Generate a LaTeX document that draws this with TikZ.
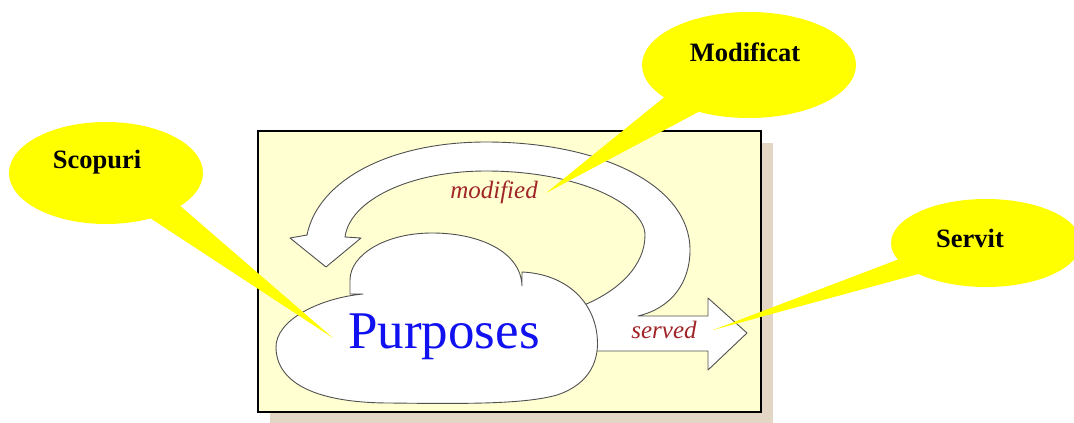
\documentclass[tikz,border=0pt]{standalone}
\usepackage{fontspec}
\setmainfont{Liberation Serif}
\usetikzlibrary{shapes.geometric}
\definecolor{boxfill}{RGB}{255,255,210}
\definecolor{boxshadow}{RGB}{228,214,196}
\definecolor{outline}{RGB}{80,80,80}
\definecolor{labelred}{RGB}{160,36,40}
\definecolor{purpblue}{RGB}{16,16,240}
\definecolor{callyellow}{RGB}{255,255,0}
\tikzset{
  shapeline/.style={draw=outline, line width=0.9pt, fill=white, line join=round},
  flowlabel/.style={text=labelred, font=\fontsize{25}{25}\selectfont\itshape, inner sep=0pt},
  callout/.style={ellipse, fill=callyellow, inner sep=0pt},
  callouttext/.style={font=\fontsize{26.5}{26.5}\selectfont\bfseries, inner sep=0pt},
}
\begin{document}
\begin{tikzpicture}[x=1pt,y=-1pt]
\useasboundingbox (0,0) rectangle (1074,423);
\fill[white] (0,0) rectangle (1074,423);

% panel with its drop shadow
\fill[boxshadow] (270,143) rectangle (773,423);
\draw[fill=boxfill, line width=1.6pt] (258,131) rectangle (761,412);

% loop arrow back to the left, joined with the outgoing arrow
\path[shapeline]
  (595,351) -- (708,351) -- (708,370) -- (747,333) -- (708,298) -- (708,316) -- (638,316)
  .. controls (672,308) and (690,282) .. (690,250)
  .. controls (690,185) and (600,142) .. (486,142)
  .. controls (390,142) and (318,180) .. (307,235)
  -- (290,238) -- (326,267) -- (361,238) -- (345,237)
  .. controls (350,200) and (410,171) .. (486,171)
  .. controls (580,171) and (645,205) .. (645,235)
  .. controls (645,265) and (620,290) .. (584,305)
  -- (575,340) -- (585,351) -- cycle;

% cloud
\path[shapeline]
  (363,294) .. controls (320,298) and (275,320) .. (276,348)
  .. controls (277,385) and (320,403) .. (390,403)
  .. controls (470,404) and (525,404) .. (557,395)
  .. controls (590,384) and (600,360) .. (597,335)
  .. controls (593,300) and (565,274) .. (522,272)
  -- (522,286)
  .. controls (521,252) and (480,233) .. (432,233)
  .. controls (385,233) and (350,255) .. (350,280)
  -- (350,294) -- cycle;

\node[text=purpblue, font=\fontsize{53}{53}\selectfont, inner sep=0pt] (purp) at (444,337) {Purposes};
\node[flowlabel] (mod) at (494,192) {modified};
\node[flowlabel] (serv) at (664,330) {served};

% callouts
\node[callout, minimum width=194pt, minimum height=102pt] (cS) at (106,173) {};
\coordinate (tS) at (333,338);
\fill[callyellow] (147,216) -- (178,204) -- (tS) -- cycle;
\node[callouttext] (tS1) at (97,162) {Scopuri};

\node[callout, minimum width=214pt, minimum height=106pt] (cM) at (749,65) {};
\coordinate (tM) at (546,193);
\fill[callyellow] (667,95) -- (702,110) -- (tM) -- cycle;
\node[callouttext] (tM1) at (745,52) {Modificat};

\node[callout, minimum width=190pt, minimum height=88pt] (cV) at (986,243) {};
\coordinate (tV) at (713,330);
\fill[callyellow] (902,258) -- (922,273) -- (tV) -- cycle;
\node[callouttext] (tV1) at (970,238) {Servit};
\end{tikzpicture}
\end{document}
